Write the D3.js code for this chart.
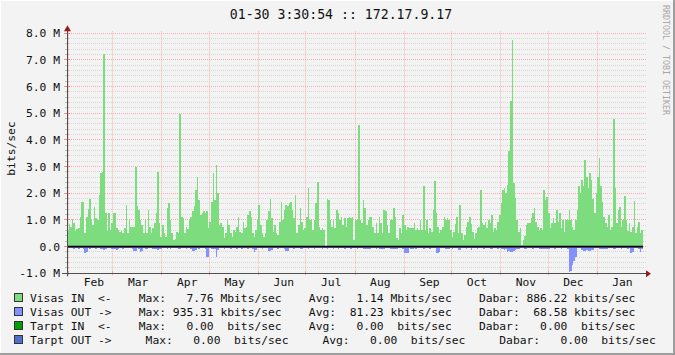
<!DOCTYPE html>
<html><head><meta charset="utf-8">
<script src="https://cdn.jsdelivr.net/npm/d3@7"></script>
<style>
html,body{margin:0;padding:0;background:#f3f3f3;}
svg{display:block;}
text{font-family:"DejaVu Sans Mono",monospace;white-space:pre;}
</style>
</head><body>
<svg id="c" width="675" height="355"></svg>
<script>
// ---------------- data ----------------
const titleText = "01-30 3:30:54 :: 172.17.9.17";
const yAxisTitle = "bits/sec";
const watermark = "RRDTOOL / TOBI OETIKER";
const monthLabels = ["Feb","Mar","Apr","May","Jun","Jul","Aug","Sep","Oct","Nov","Dec","Jan"];
const yTickValues = [-1,0,1,2,3,4,5,6,7,8];            // Mbit/s
const yTickLabels = ["-1.0 M","0.0","1.0 M","2.0 M","3.0 M","4.0 M","5.0 M","6.0 M","7.0 M","8.0 M"];
const startDate = new Date(2013,0,31);                 // first daily sample
// daily averages, Mbit/s  (Visas IN)
const inValues = [
0.58,0.86,0.73,1.03,0.9,0.6,0.65,0.7,1.1,1.66,1.66,0.5,1.13,1.4,1.8,1.0,0.82,1.5,1.07,1.0,
1.95,2.76,2.79,7.21,1.25,0.6,1.25,0.63,0.88,1.25,1.25,0.69,0.63,0.56,0.6,0.5,0.69,1.57,0.5,1.0,
0.75,0.75,0.75,3.0,1.51,1.38,1.0,0.82,0.5,1.0,0.5,1.38,0.75,0.5,0.69,0.88,1.25,2.8,0.88,0.38,
0.82,0.5,0.38,1.44,1.63,1.0,0.5,0.25,0.3,0.56,0.5,4.99,1.13,1.07,0.5,0.75,0.65,1.0,1.13,1.32,
1.51,2.13,2.63,1.76,1.19,1.25,1.32,1.25,1.32,0.69,0.94,1.69,2.76,1.76,3.07,2.0,0.82,0.88,0.75,0.31,
0.5,1.0,0.82,0.5,0.38,0.63,0.56,0.75,1.13,0.56,0.5,0.94,0.69,0.75,1.19,1.32,1.13,0.5,0.38,0.63,
1.0,1.57,0.82,0.5,0.38,0.5,1.0,1.32,1.8,1.07,0.56,0.82,0.5,0.45,0.94,1.69,1.0,1.38,1.57,1.51,
1.63,1.69,1.38,1.07,1.94,0.5,0.82,1.44,0.94,0.63,0.69,1.13,2.2,1.0,1.0,0.63,1.0,1.63,2.42,0.75,
0.63,0.69,0.63,0.0,1.8,1.76,1.0,0.75,1.0,0.69,1.38,1.25,1.0,1.13,0.82,1.07,0.75,1.07,1.13,1.07,
1.13,0.25,1.0,1.0,4.58,1.0,0.88,1.76,1.44,0.82,1.0,1.13,1.13,0.75,0.5,0.88,0.5,1.13,0.88,0.5,
1.38,1.32,0.82,0.5,1.0,1.0,1.44,1.13,0.31,0.25,0.69,0.5,1.19,0.82,0.63,0.75,0.69,0.69,0.69,0.88,
0.63,0.69,0.63,1.0,0.63,2.26,0.63,1.0,0.5,0.69,0.56,1.38,2.46,1.25,0.75,0.5,0.63,0.75,1.13,1.0,
1.07,1.0,0.63,0.38,0.56,0.85,1.13,0.5,1.57,0.5,0.25,0.45,0.75,0.94,1.13,0.85,0.56,0.3,0.5,0.69,
0.75,2.13,0.88,0.82,0.94,0.69,1.0,0.88,1.19,0.56,0.69,0.63,0.94,1.19,1.63,2.13,2.2,2.01,2.32,3.6,
5.46,7.76,2.38,1.82,1.0,0.56,0.69,0.05,0.25,0.4,0.82,0.88,0.88,1.07,1.25,1.44,0.94,0.75,0.63,0.69,
0.63,2.13,1.76,1.88,1.25,0.69,0.88,1.07,0.88,1.38,0.94,1.25,0.69,1.0,0.56,1.0,1.0,1.38,1.0,0.75,
0.63,1.0,1.38,2.26,2.0,2.51,2.26,3.26,2.6,2.2,2.76,2.51,1.8,1.25,2.0,2.6,3.32,2.26,1.69,1.13,
0.88,0.75,1.19,0.63,0.75,4.77,2.2,0.88,1.38,1.5,0.75,1.0,1.9,1.0,0.6,0.88,0.56,0.75,1.7,0.5,
0.75,0.94,0.5,0.63
];
// daily averages, Mbit/s  (Visas OUT, drawn below zero)
const outValues = [
0.05,0.06,0.05,0.06,0.07,0.05,0.06,0.08,0.06,0.05,0.07,0.22,0.2,0.06,0.1,0.06,0.05,0.06,0.07,0.06,
0.06,0.1,0.1,0.13,0.1,0.06,0.05,0.06,0.07,0.08,0.1,0.13,0.1,0.06,0.06,0.08,0.06,0.05,0.06,0.06,
0.06,0.07,0.17,0.15,0.06,0.07,0.2,0.18,0.06,0.08,0.08,0.06,0.05,0.06,0.07,0.1,0.1,0.12,0.1,0.08,
0.06,0.05,0.06,0.07,0.06,0.08,0.06,0.05,0.06,0.06,0.07,0.1,0.06,0.05,0.06,0.07,0.06,0.06,0.07,0.15,
0.15,0.12,0.06,0.07,0.06,0.05,0.06,0.07,0.4,0.38,0.06,0.07,0.08,0.1,0.4,0.12,0.06,0.05,0.06,0.07,
0.06,0.05,0.06,0.07,0.06,0.05,0.06,0.08,0.06,0.06,0.08,0.06,0.05,0.06,0.07,0.06,0.06,0.08,0.2,0.12,
0.06,0.05,0.06,0.07,0.06,0.05,0.06,0.17,0.17,0.12,0.06,0.05,0.06,0.07,0.06,0.05,0.06,0.07,0.15,0.15,
0.06,0.05,0.06,0.07,0.06,0.05,0.06,0.07,0.08,0.06,0.05,0.06,0.07,0.06,0.05,0.06,0.07,0.06,0.05,0.06,
0.06,0.08,0.06,0.05,0.09,0.06,0.05,0.06,0.07,0.06,0.05,0.08,0.06,0.05,0.06,0.07,0.06,0.05,0.06,0.07,
0.06,0.05,0.06,0.07,0.06,0.05,0.06,0.08,0.08,0.08,0.08,0.08,0.06,0.05,0.06,0.07,0.06,0.1,0.1,0.1,
0.09,0.06,0.05,0.06,0.1,0.1,0.1,0.09,0.1,0.06,0.05,0.06,0.07,0.25,0.22,0.25,0.06,0.07,0.08,0.06,
0.08,0.06,0.05,0.06,0.06,0.08,0.06,0.05,0.06,0.07,0.06,0.05,0.06,0.25,0.25,0.2,0.06,0.05,0.06,0.08,
0.08,0.08,0.06,0.07,0.06,0.05,0.06,0.12,0.12,0.06,0.05,0.06,0.07,0.06,0.05,0.12,0.06,0.05,0.06,0.07,
0.06,0.05,0.06,0.07,0.06,0.05,0.06,0.07,0.1,0.06,0.05,0.06,0.07,0.06,0.1,0.1,0.12,0.1,0.2,0.18,
0.2,0.2,0.15,0.12,0.1,0.1,0.06,0.05,0.06,0.08,0.08,0.06,0.05,0.06,0.07,0.06,0.05,0.06,0.1,0.1,
0.1,0.1,0.1,0.08,0.1,0.06,0.05,0.06,0.07,0.06,0.05,0.06,0.07,0.06,0.05,0.06,0.07,0.94,0.9,0.7,
0.55,0.4,0.06,0.05,0.06,0.12,0.15,0.15,0.12,0.15,0.15,0.13,0.12,0.06,0.05,0.06,0.1,0.1,0.1,0.1,
0.1,0.08,0.06,0.05,0.06,0.1,0.1,0.06,0.05,0.06,0.07,0.06,0.05,0.06,0.07,0.06,0.25,0.2,0.06,0.05,
0.06,0.07,0.2,0.08
];
const legendNames = ["Visas IN  <-","Visas OUT ->","Tarpt IN  <-","Tarpt OUT ->"];
const legendColors = ["#7ddc7d","#8291ff","#00a000","#5070cc"];
const legendMax = ["7.76","935.31","0.00","0.00"];
const legendMaxUnit = ["M","k"," "," "];
const legendAvg = ["1.14","81.23","0.00","0.00"];
const legendAvgUnit = ["M","k"," "," "];
const legendCur = ["886.22","68.58","0.00","0.00"];
const legendCurUnit = ["k","k"," "," "];

// ---------------- layout ----------------
const svg = d3.select("#c");
const W = 675, H = 355;
const X0 = 67, X1 = 643, YT = 33.3, YB = 273.3;

svg.append("rect").attr("width",W).attr("height",H).attr("fill","#f3f3f3");

const dates = inValues.map((v,i)=>d3.timeDay.offset(startDate,i));
const endDate = d3.timeDay.offset(startDate,inValues.length);
const x = d3.scaleTime().domain([startDate,endDate]).range([X0,X1]);
const y = d3.scaleLinear().domain([-1e6,8e6]).range([YB,YT]);

// grid
const grid = svg.append("g");
const minorVals = d3.range(-10,81,2).map(v=>v*1e5).filter(v=>Math.round(v/1e5)%10!==0);
minorVals.forEach(v=>{
  const yy = Math.round(y(v)-0.5)+0.5;
  grid.append("line").attr("x1",X0).attr("x2",X1+3).attr("y1",yy).attr("y2",yy)
    .attr("stroke","#c0c0c0").attr("stroke-opacity",0.55).attr("stroke-dasharray","1,1");
  grid.append("line").attr("x1",X0-2).attr("x2",X0+2).attr("y1",yy).attr("y2",yy)
    .attr("stroke","#c0c0c0");
});
const monthStarts = d3.timeMonth.range(d3.timeMonth.ceil(startDate), endDate);
monthStarts.forEach(d=>{
  const xx = Math.round(x(d)-0.5)+0.5;
  grid.append("line").attr("x1",xx).attr("x2",xx).attr("y1",YT-2).attr("y2",YB)
    .attr("stroke","#ff5f5f").attr("stroke-opacity",0.42).attr("stroke-dasharray","1,1");
  grid.append("line").attr("x1",xx).attr("x2",xx).attr("y1",YB-2).attr("y2",YB+2)
    .attr("stroke","#ff5f5f").attr("stroke-opacity",0.5);
});
yTickValues.forEach(v=>{
  const yy = Math.round(y(v*1e6)-0.5)+0.5;
  grid.append("line").attr("x1",X0).attr("x2",X1+3).attr("y1",yy).attr("y2",yy)
    .attr("stroke","#ff5f5f").attr("stroke-opacity",0.5).attr("stroke-dasharray","1,1");
  grid.append("line").attr("x1",X0-3).attr("x2",X0+3).attr("y1",yy).attr("y2",yy)
    .attr("stroke","#ff5f5f").attr("stroke-opacity",0.7);
});

// areas
const inPts = inValues.map((v,i)=>({d:dates[i],v:v*1e6})); inPts.push({d:endDate,v:inValues[inValues.length-1]*1e6});
const outPts = outValues.map((v,i)=>({d:dates[i],v:-v*1e6})); outPts.push({d:endDate,v:-outValues[outValues.length-1]*1e6});
const area = d3.area().x(p=>x(p.d)).y0(y(0)).y1(p=>y(p.v)).curve(d3.curveStepAfter);
svg.append("path").attr("d",area(inPts)).attr("fill",legendColors[0]).attr("shape-rendering","crispEdges");
svg.append("path").attr("d",area(outPts)).attr("fill",legendColors[1]).attr("shape-rendering","crispEdges");

// zero line
svg.append("line").attr("x1",X0).attr("x2",X1).attr("y1",y(0)).attr("y2",y(0))
  .attr("stroke","#000").attr("stroke-width",1.6);

// axes
const axisCol = "#505050", arrowCol = "#9b1b1b";
svg.append("line").attr("x1",X0+0.5).attr("x2",X0+0.5).attr("y1",YB+3).attr("y2",YT-5).attr("stroke",axisCol);
svg.append("line").attr("x1",X0-5).attr("x2",X1+4).attr("y1",Math.round(YB)+0.5).attr("y2",Math.round(YB)+0.5).attr("stroke",axisCol);
svg.append("path").attr("d",`M${X0-3},${YT-2}L${X0+0.5},${YT-8}L${X0+4},${YT-2}Z`).attr("fill",arrowCol);
svg.append("path").attr("d",`M${X1+3},${YB-3}L${X1+8},${YB+0.5}L${X1+3},${YB+4}Z`).attr("fill",arrowCol);

// y labels
yTickValues.forEach((v,i)=>{
  svg.append("text").attr("x",60).attr("y",y(v*1e6)+4).attr("text-anchor","end")
    .attr("font-size","11.3px").attr("fill","#111").text(yTickLabels[i]);
});
// month labels
monthStarts.forEach((d,i)=>{
  svg.append("text").attr("x",x(d3.timeDay.offset(d,16))).attr("y",285.5).attr("text-anchor","middle")
    .attr("font-size","11.3px").attr("fill","#111").text(monthLabels[i]);
});
// title
svg.append("text").attr("x",341).attr("y",19).attr("text-anchor","middle")
  .attr("font-size","13.2px").attr("fill","#111").text(titleText);
// y axis title
svg.append("text").attr("transform","translate(14.5,148.5) rotate(-90)").attr("text-anchor","middle")
  .attr("font-size","11.3px").attr("fill","#111").text(yAxisTitle);
// watermark
svg.append("text").attr("transform","translate(663,5) rotate(90)").attr("text-anchor","start")
  .attr("font-size","8.3px").attr("fill","#a8a8a8").text(watermark);

// legend
const rowY = [302,316,330,344];
legendNames.forEach((n,i)=>{
  svg.append("rect").attr("x",14.5).attr("y",rowY[i]-8.5).attr("width",8).attr("height",8)
    .attr("fill",legendColors[i]).attr("stroke","#333").attr("stroke-width",1);
  const sep = i===3 ? "     " : "    ";
  const s = n + sep + "Max: " + legendMax[i].padStart(6) + " " + legendMaxUnit[i] + "bits/sec" + sep +
            "Avg: " + legendAvg[i].padStart(6) + " " + legendAvgUnit[i] + "bits/sec" + sep +
            "Dabar: " + legendCur[i].padStart(6) + " " + legendCurUnit[i] + "bits/sec";
  svg.append("text").attr("x",30).attr("y",rowY[i]).attr("font-size","11.3px").attr("fill","#111")
    .attr("xml:space","preserve").text(s);
});

// frame
svg.append("line").attr("x1",0).attr("x2",W).attr("y1",0.5).attr("y2",0.5).attr("stroke","#fff");
svg.append("line").attr("x1",0.5).attr("x2",0.5).attr("y1",0).attr("y2",H).attr("stroke","#fff");
svg.append("rect").attr("x",0).attr("y",H-2).attr("width",W).attr("height",2).attr("fill","#9e9e9e");
svg.append("rect").attr("x",W-2).attr("y",0).attr("width",2).attr("height",H).attr("fill","#9e9e9e");
</script>
</body></html>
